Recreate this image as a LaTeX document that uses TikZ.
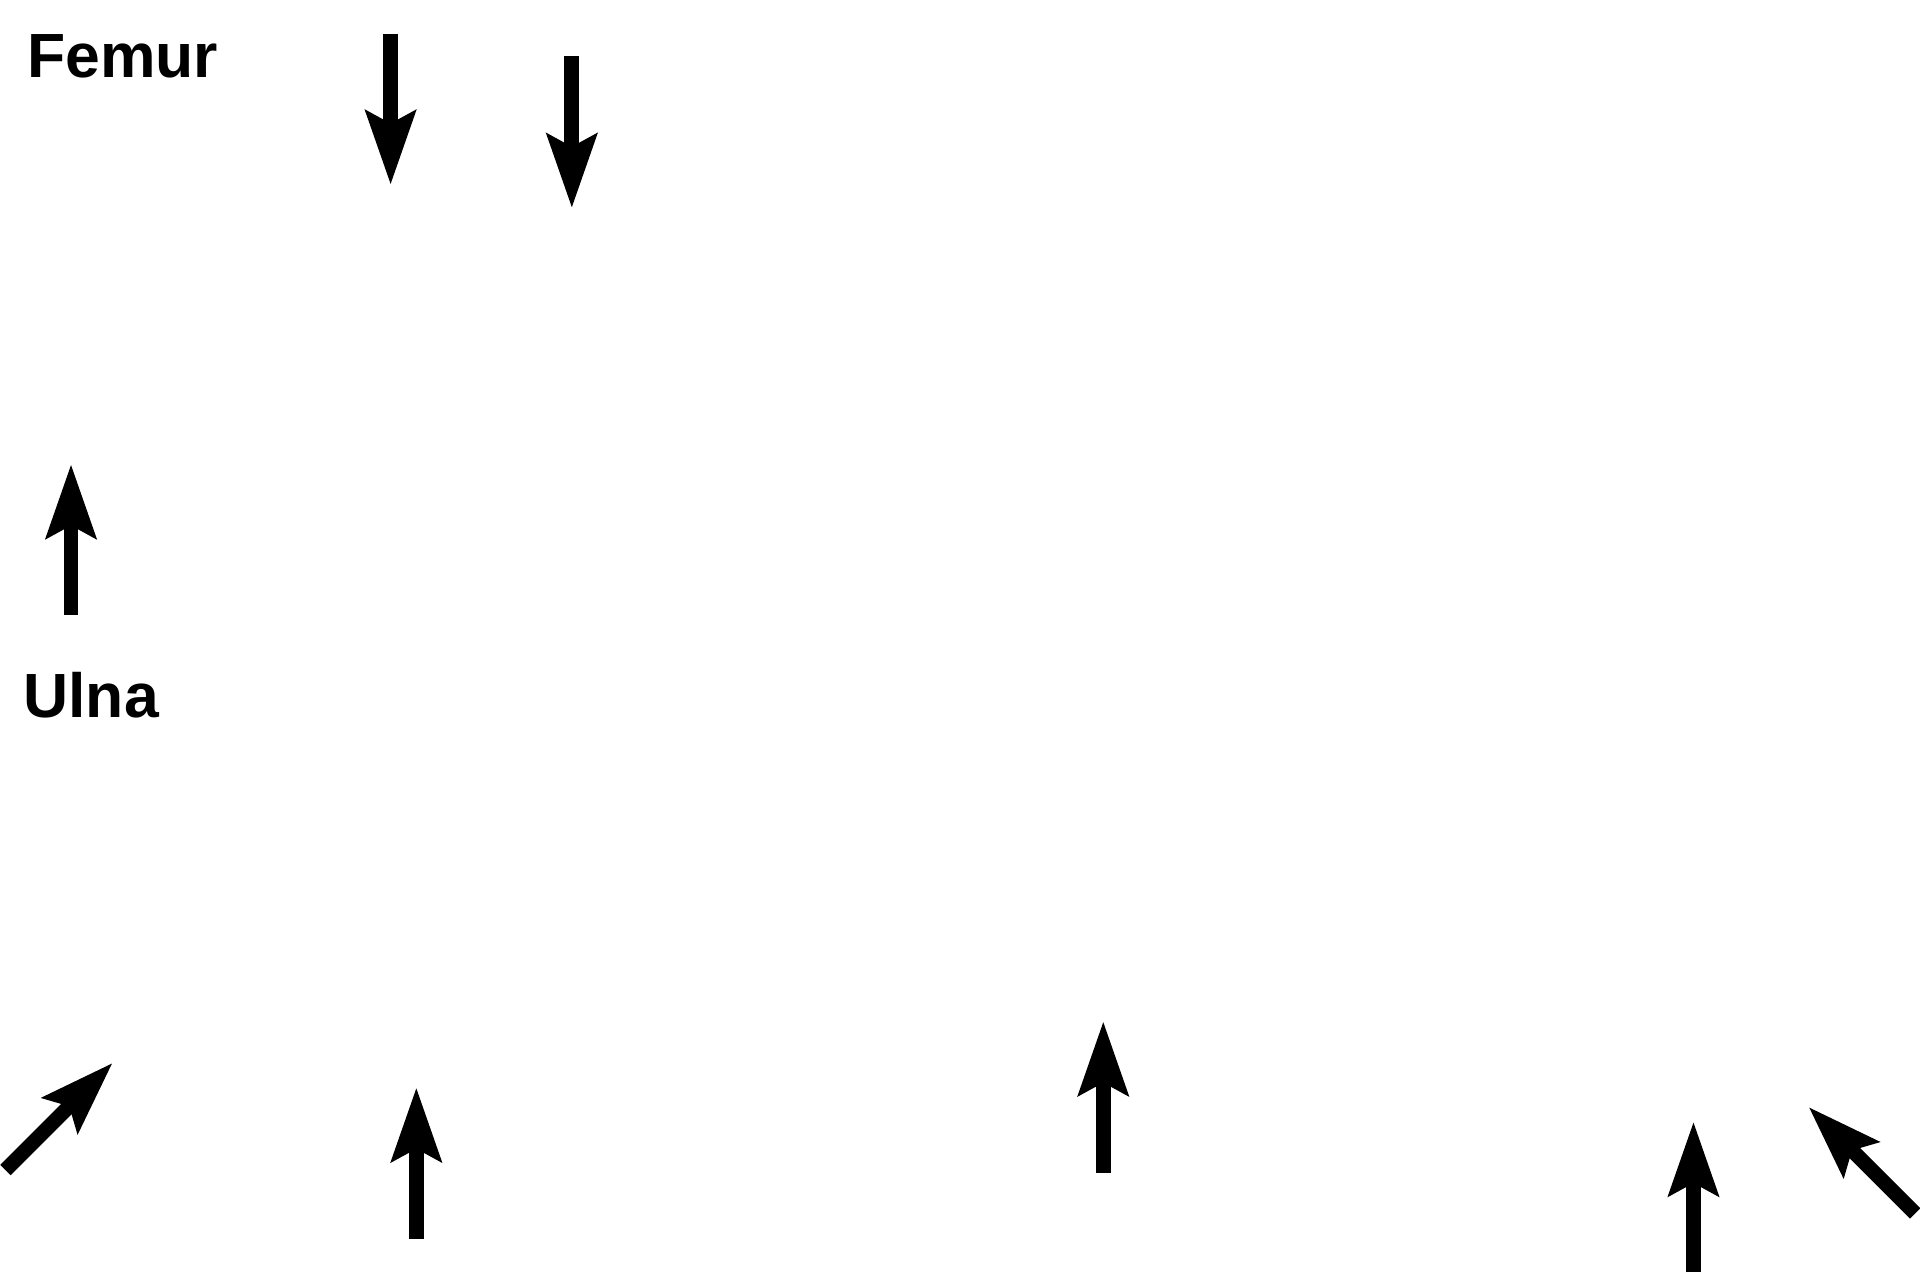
\documentclass[tikz,border=0pt]{standalone}
\usepackage{fontspec}
\setmainfont{Liberation Sans}
\usetikzlibrary{arrows.meta}
\tikzset{
  bigarrow/.style={draw=black, line width=12pt, line cap=butt,
    -{Stealth[length=60pt,width=40pt,inset=10pt]}},
  label/.style={inner sep=0pt, anchor=base west, font=\fontsize{51}{60}\selectfont\bfseries}
}
\begin{document}
\begin{tikzpicture}[x=1pt,y=-1pt]
\useasboundingbox (0,0) rectangle (1568,1045.33);
\node[label] (femur) at (22,63) {Femur};
\node[label] (ulna) at (19,586) {Ulna};
% arrows
\coordinate (a1) at (319,28);   \coordinate (a2) at (319,151);
\coordinate (b1) at (467,46);   \coordinate (b2) at (467,170);
\coordinate (c1) at (58,502);   \coordinate (c2) at (58,379);
\coordinate (d1) at (4.5,955.5);\coordinate (d2) at (92,868);
\coordinate (e1) at (340,1012); \coordinate (e2) at (340,888);
\coordinate (f1) at (901,958);  \coordinate (f2) at (901,834);
\coordinate (g1) at (1383,1039);\coordinate (g2) at (1383,916);
\coordinate (h1) at (1564,991); \coordinate (h2) at (1477,904);
\draw[bigarrow] (a1) -- (a2);
\draw[bigarrow] (b1) -- (b2);
\draw[bigarrow] (c1) -- (c2);
\draw[bigarrow] (d1) -- (d2);
\draw[bigarrow] (e1) -- (e2);
\draw[bigarrow] (f1) -- (f2);
\draw[bigarrow] (g1) -- (g2);
\draw[bigarrow] (h1) -- (h2);
\end{tikzpicture}
\end{document}
